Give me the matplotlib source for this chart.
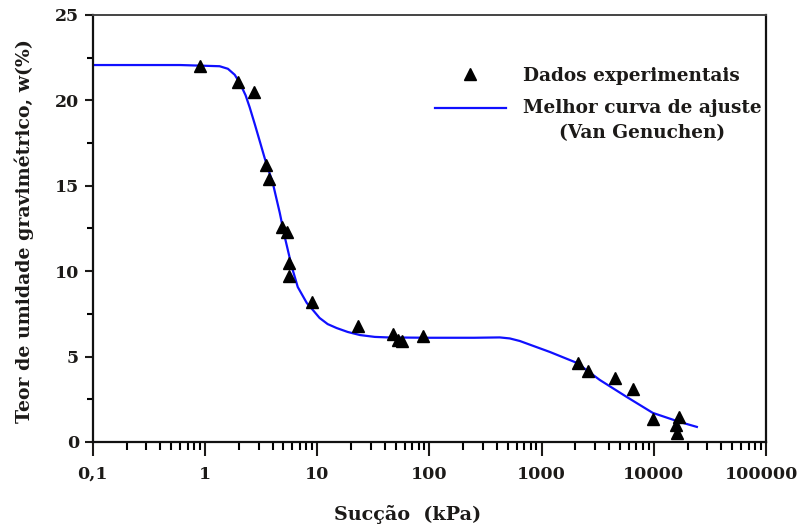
import matplotlib.pyplot as plt
import matplotlib.ticker as mticker
from matplotlib.legend_handler import HandlerLine2D
from matplotlib.transforms import ScaledTranslation
import numpy as np

# Suction (kPa) and gravimetric water content (%) measured in the lab
suction_exp = [0.9, 1.96, 2.75, 3.5, 3.7, 4.85, 5.4, 5.6, 5.55, 8.9, 23, 47, 52, 57, 87,
               2100, 2580, 4500, 6500, 9800, 16700, 15900, 16200]
w_exp = [22.0, 21.1, 20.5, 16.2, 15.4, 12.6, 12.3, 10.5, 9.7, 8.2, 6.8, 6.3, 5.95, 5.9, 6.2,
         4.6, 4.15, 3.75, 3.1, 1.35, 1.45, 1.0, 0.55]

# Van Genuchen fitted curve, sampled
suction_fit = [0.1, 0.6, 1.35, 1.6, 1.84, 2.05, 2.3, 2.5, 2.78, 3.08, 3.41, 4.02, 4.64,
               5.14, 5.94, 6.71, 8.07, 9.14, 10.5, 12.4, 14.9, 18.7, 24.0, 32.6, 42.6,
               100, 250, 424, 521, 640, 1183, 2060, 3300, 5750, 9800, 17000, 24200]
w_fit = [22.07, 22.07, 22.0, 21.85, 21.5, 21.0, 20.3, 19.6, 18.6, 17.6, 16.6, 15.16, 13.41,
         12.0, 10.25, 9.07, 8.14, 7.73, 7.26, 6.9, 6.67, 6.44, 6.26, 6.15, 6.12,
         6.1, 6.1, 6.12, 6.06, 5.91, 5.27, 4.63, 3.63, 2.63, 1.70, 1.17, 0.88]

x_ticks = [0.1, 1, 10, 100, 1000, 10000, 100000]
x_ticklabels = ['0,1', '1', '10', '100', '1000', '10000', '100000']
y_ticks = [0, 5, 10, 15, 20, 25]

plt.rcParams['font.family'] = ['DejaVu Serif']
plt.rcParams['font.weight'] = 'bold'
plt.rcParams['axes.labelweight'] = 'bold'
text_color = '#1c1a18'


class HandlerFirstLine(HandlerLine2D):
    # put the line sample level with the first row of a two-row label
    def __init__(self, shift, **kw):
        super().__init__(**kw)
        self.shift = shift

    def create_artists(self, legend, orig_handle, xdescent, ydescent, width, height,
                       fontsize, trans):
        artists = super().create_artists(legend, orig_handle, xdescent, ydescent, width,
                                         height, fontsize, trans)
        for a in artists:
            a.set_ydata(np.asarray(a.get_ydata()) + self.shift)
        return artists


fig = plt.figure(figsize=(8, 5.28), dpi=100)
ax = fig.add_axes([0.116, 0.163, 0.8415, 0.8086])

fit_line, = ax.plot(suction_fit, w_fit, color='#1010ff', lw=1.6,
                    label='Melhor curva de ajuste\n(Van Genuchen)')
exp_pts, = ax.plot(suction_exp, w_exp, '^', color='black', ms=9, ls='none',
                   label='Dados experimentais')

ax.set_xscale('log')
ax.set_xlim(0.1, 100000)
ax.set_ylim(0, 25)

ax.set_xticks(x_ticks)
ax.xaxis.set_major_formatter(mticker.FixedFormatter(x_ticklabels))
ax.xaxis.set_minor_locator(mticker.LogLocator(base=10, subs=np.arange(2, 10)))
ax.xaxis.set_minor_formatter(mticker.NullFormatter())
ax.set_yticks(y_ticks)
ax.yaxis.set_minor_locator(mticker.MultipleLocator(2.5))

ax.tick_params(axis='x', which='major', direction='out', length=10, width=1.5, pad=7,
               labelsize=12.5, colors=text_color)
ax.tick_params(axis='x', which='minor', direction='out', length=6, width=1.5)
ax.tick_params(axis='y', which='major', direction='out', length=6, width=1.5, pad=4,
               labelsize=12.5, colors=text_color)
ax.tick_params(axis='y', which='minor', direction='out', length=4, width=1.5)

# keep the last x label inside the figure
last_tick = ax.xaxis.get_major_ticks()[-1]
last_tick.label1.set_transform(last_tick.label1.get_transform()
                               + ScaledTranslation(-0.045, 0, fig.dpi_scale_trans))

for side in ['left', 'bottom', 'right']:
    ax.spines[side].set_linewidth(1.6)
    ax.spines[side].set_color('#111111')
ax.spines['top'].set_linewidth(1.4)
ax.spines['top'].set_color('#444444')

ax.set_xlabel('Sucção  (kPa)', fontsize=13.8, color=text_color)
ax.xaxis.set_label_coords(0.467, -0.148)
ax.set_ylabel('Teor de umidade gravimétrico, w(%)', fontsize=13.6, color=text_color)
ax.yaxis.set_label_coords(-0.087, 0.494)

leg = ax.legend([exp_pts, fit_line], [exp_pts.get_label(), fit_line.get_label()],
                loc='upper left', bbox_to_anchor=(0.4835, 0.918), frameon=False,
                fontsize=13.3, handlelength=3.84, handletextpad=0.92, labelspacing=0.8,
                numpoints=1, handler_map={fit_line: HandlerFirstLine(shift=9.4)})
for t in leg.get_texts():
    t.set_multialignment('center')
    t.set_linespacing(1.45)
    t.set_color(text_color)

fig.savefig('out.png', dpi=100)
